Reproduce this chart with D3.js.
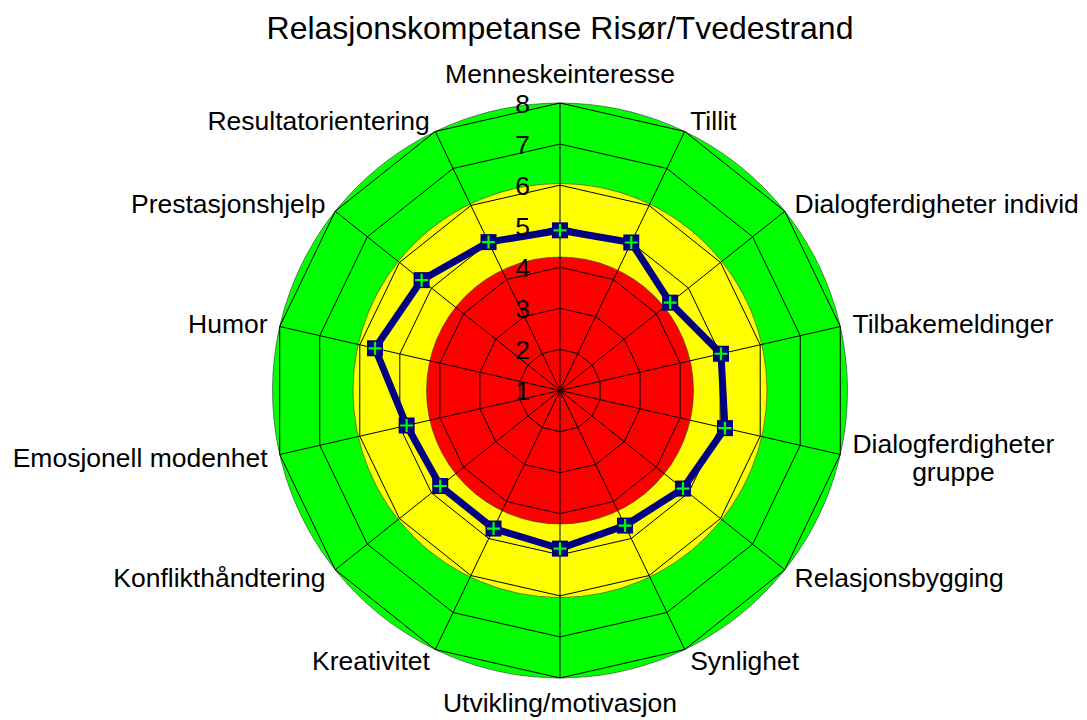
<!DOCTYPE html>
<html>
<head>
<meta charset="utf-8">
<script src="https://cdn.jsdelivr.net/npm/d3@7"></script>
<style>
  body { margin: 0; background: #fff; }
  text { font-family: "Liberation Sans", Arial, sans-serif; fill: #000; }
</style>
</head>
<body>
<div id="chart"></div>
<script>
const title = 'Relasjonskompetanse Risør/Tvedestrand';
const categories = ['Menneskeinteresse', 'Tillit', 'Dialogferdigheter individ', 'Tilbakemeldinger',
  'Dialogferdigheter\ngruppe', 'Relasjonsbygging', 'Synlighet', 'Utvikling/motivasjon', 'Kreativitet',
  'Konflikthåndtering', 'Emosjonell modenhet', 'Humor', 'Prestasjonshjelp', 'Resultatorientering'];
const values = [4.9, 5.0, 4.43, 5.02, 5.12, 4.83, 4.65, 4.85, 4.73, 4.73, 4.83, 5.62, 5.31, 5.01];
const ticks = [1, 2, 3, 4, 5, 6, 7, 8];
const zoneLimits = [8, 6.04, 4.25];
const zoneColors = ['#00ff00', '#ffff00', '#ff0000'];

const w = 1087, h = 720;
const cx = 560, cy = 390.5;
const R = 287.5;

const rScale = d3.scaleLinear().domain([1, 8]).range([0, R]);
const angle = d3.scaleLinear().domain([0, categories.length]).range([0, 2 * Math.PI]);

const svg = d3.select('#chart').append('svg')
  .attr('width', w)
  .attr('height', h);

svg.append('text')
  .attr('x', cx)
  .attr('y', 39)
  .attr('text-anchor', 'middle')
  .style('font-size', '32px')
  .text(title);

const g = svg.append('g').attr('transform', `translate(${cx},${cy})`);

// coloured zones
g.selectAll('circle.zone')
  .data(zoneLimits)
  .enter()
  .append('circle')
  .attr('class', 'zone')
  .attr('r', d => rScale(d))
  .style('fill', (d, i) => zoneColors[i])
  .style('stroke', '#333')
  .style('stroke-width', 0.6);

// grid polygons
const idx = d3.range(categories.length);
const ring = d3.lineRadial()
  .angle(i => angle(i))
  .curve(d3.curveLinearClosed);

g.selectAll('path.grid')
  .data(ticks.slice(1))
  .enter()
  .append('path')
  .attr('class', 'grid')
  .attr('d', t => ring.radius(() => rScale(t))(idx))
  .style('fill', 'none')
  .style('stroke', '#000')
  .style('stroke-width', 1);

// spokes
g.selectAll('line.spoke')
  .data(idx)
  .enter()
  .append('line')
  .attr('x1', 0).attr('y1', 0)
  .attr('x2', i => rScale(8) * Math.sin(angle(i)))
  .attr('y2', i => -rScale(8) * Math.cos(angle(i)))
  .style('stroke', '#000')
  .style('stroke-width', 1);

// series
const seriesLine = d3.lineRadial()
  .angle((d, i) => angle(i))
  .radius(d => rScale(d))
  .curve(d3.curveLinearClosed);

g.append('path')
  .attr('d', seriesLine(values))
  .style('fill', 'none')
  .style('stroke', '#000080')
  .style('stroke-width', 7)
  .style('stroke-linejoin', 'miter');

const px = (d, i) => rScale(d) * Math.sin(angle(i));
const py = (d, i) => -rScale(d) * Math.cos(angle(i));

const marks = g.selectAll('g.mark')
  .data(values)
  .enter()
  .append('g')
  .attr('transform', (d, i) => `translate(${px(d, i)},${py(d, i)})`);

marks.append('rect')
  .attr('x', -8).attr('y', -8)
  .attr('width', 16).attr('height', 16)
  .style('fill', '#000080');

marks.append('path')
  .attr('d', 'M-6.5,0H6.5M0,-6.5V6.5')
  .style('stroke', '#00ff00')
  .style('stroke-width', 2.2);

// tick labels
g.selectAll('text.tick')
  .data(ticks)
  .enter()
  .append('text')
  .attr('x', -30)
  .attr('y', d => -rScale(d))
  .attr('dy', '0.36em')
  .attr('text-anchor', 'end')
  .style('font-size', '26.5px')
  .text(d => d);

// category labels
const labR = R + 12.5;
categories.forEach((c, i) => {
  const a = angle(i);
  const s = Math.sin(a), co = Math.cos(a);
  const x = labR * s, y = -labR * co;
  const lines = c.split('\n');
  const t = g.append('text').style('font-size', '26.5px');
  let anchor = 'middle';
  if (s > 0.01) anchor = 'start';
  if (s < -0.01) anchor = 'end';
  let y0;
  if (Math.abs(s) < 0.01) {
    y0 = co > 0 ? y - 7.5 : y + 21.5;
  } else {
    y0 = y + 9.3 - (lines.length - 1) * 14;
  }
  t.attr('text-anchor', anchor);
  lines.forEach((ln, j) => {
    t.append('tspan').attr('x', x).attr('y', y0 + j * 28).text(ln);
  });
  if (lines.length > 1) {
    const widths = [];
    t.selectAll('tspan').each(function () { widths.push(this.getComputedTextLength()); });
    const mw = d3.max(widths);
    t.attr('text-anchor', 'middle');
    t.selectAll('tspan').attr('x', anchor === 'start' ? x + mw / 2 : x - mw / 2);
  }
});
</script>
</body>
</html>
